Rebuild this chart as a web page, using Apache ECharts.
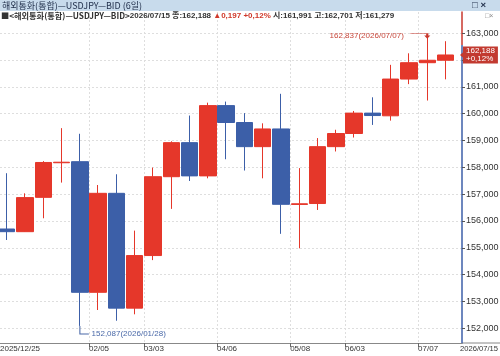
<!DOCTYPE html>
<html>
<head>
<meta charset="utf-8">
<script src="https://cdn.jsdelivr.net/npm/echarts@6/dist/echarts.min.js"></script>
<style>
  html, body { margin: 0; padding: 0; background: #fff; }
  #chart { width: 500px; height: 356px; }
</style>
</head>
<body>
<div id="chart"></div>
<script>
// 6-day candles, USDJPY bid
const dates = [
  '2025/12/25', '2026/01/05', '2026/01/13', '2026/01/21', '2026/01/28',
  '2026/02/05', '2026/02/13', '2026/02/24', '2026/03/03', '2026/03/11',
  '2026/03/19', '2026/03/27', '2026/04/06', '2026/04/14', '2026/04/22',
  '2026/04/30', '2026/05/08', '2026/05/18', '2026/05/26', '2026/06/03',
  '2026/06/11', '2026/06/19', '2026/06/29', '2026/07/07', '2026/07/15'
];
const opens = [
  155.70, 155.60, 156.88, 158.17, 158.21,
  153.34, 157.03, 152.75, 154.71, 157.65,
  158.92, 157.68, 160.30, 159.67, 158.77,
  159.43, 156.615, 156.65, 158.77, 159.26,
  160.02, 159.92, 161.29, 161.90, 161.991
];
const closes = [
  155.60, 156.87, 158.18, 158.19, 153.34,
  157.03, 152.75, 154.71, 157.65, 158.92,
  157.68, 160.30, 159.67, 158.77, 159.43,
  156.62, 156.64, 158.77, 159.26, 160.02,
  159.93, 161.29, 161.90, 161.991, 162.188
];
const lows = [
  155.29, 155.59, 156.10, 157.43, 152.087,
  152.68, 152.28, 152.52, 154.54, 156.45,
  157.49, 157.59, 158.30, 157.88, 157.59,
  155.52, 154.98, 156.41, 158.59, 159.11,
  159.58, 159.74, 161.10, 160.49, 161.279
];
const highs = [
  157.78, 157.03, 158.23, 159.46, 159.25,
  157.34, 157.74, 155.64, 157.99, 158.97,
  159.93, 160.41, 160.45, 160.02, 159.64,
  160.74, 157.97, 159.09, 159.40, 160.10,
  160.61, 161.82, 162.25, 162.837, 162.701
];
const yTicks = [152, 153, 154, 155, 156, 157, 158, 159, 160, 161, 162, 163];
const yLabels = [152, 153, 154, 155, 156, 157, 158, 159, 160, 161, 163];
const xLabelIdx = [0, 5, 8, 12, 16, 19, 23];

const red = '#e5372a';
const blue = '#3c5fa8';
const xMin = 0.131;
const xMax = 25.4;
const yMin = 151.45;
const yMax = 163.79;

const fmt = v => v.toFixed(3).replace('.', ',');
const last = dates.length - 1;
const change = closes[last] - closes[last - 1];
const pct = change / closes[last - 1] * 100;
const pctText = (change >= 0 ? '+' : '') + pct.toFixed(2).replace('.', ',') + '%';

let hiIdx = 0, loIdx = 0;
highs.forEach((v, i) => { if (v > highs[hiIdx]) hiIdx = i; });
lows.forEach((v, i) => { if (v < lows[loIdx]) loIdx = i; });

const candles = dates.map((d, i) => [i + 0.5, opens[i], closes[i], lows[i], highs[i]]);

const chart = echarts.init(document.getElementById('chart'));
const font = 'Liberation Sans';
const krFont = 'Noto Sans CJK KR';
const mixFont = "'Liberation Sans', 'Noto Sans CJK KR'";

const option = {
  animation: false,
  backgroundColor: '#fff',
  title: [
    {
      text: '해외통화(통합)—USDJPY—BID (6일)',
      left: 2, top: 0, padding: 0,
      textStyle: { fontSize: 9, fontWeight: 'normal', color: '#1e2c48', fontFamily: krFont, lineHeight: 11 }
    },
    {
      text: '{a|■<해외통화(통합)—USDJPY—BID>}{k|' + dates[last] + ' 종:' + fmt(closes[last]) + ' }' +
        '{r|▲' + fmt(change) + ' ' + pctText + '}' +
        '{k| 시:' + fmt(opens[last]) + ' 고:' + fmt(highs[last]) + ' 저:' + fmt(lows[last]) + '}',
      left: 1, top: 12, padding: 0,
      textStyle: {
        rich: {
          a: { fontSize: 8.2, color: '#333', fontFamily: krFont },
          k: { fontSize: 8, color: '#333', fontFamily: mixFont },
          r: { fontSize: 8, color: '#d0392b', fontFamily: mixFont }
        }
      }
    }
  ],
  graphic: [
    { type: 'rect', left: 0, top: 0, z: -1, shape: { width: 500, height: 11 }, style: { fill: '#c8dbec' } },
    { type: 'text', left: 472, top: 0, style: { text: '□ ×', fontSize: 9.5, fontWeight: 'bold', fill: '#1e2c48', fontFamily: font } },
    { type: 'text', left: 485, top: 13, style: { text: '□×', fontSize: 7, fill: '#888', fontFamily: font } },
    { type: 'line', shape: { x1: 462, y1: 343, x2: 500, y2: 343 }, style: { stroke: '#888', lineWidth: 1 } }
  ],
  grid: { left: 0, right: 38, top: 12, bottom: 13, outerBoundsMode: 'none' },
  xAxis: {
    type: 'value',
    min: xMin,
    max: xMax,
    axisLine: { onZero: false, lineStyle: { color: '#888' } },
    axisTick: { customValues: xLabelIdx.slice(1), length: 4, lineStyle: { color: '#666' } },
    axisLabel: {
      customValues: [xMin].concat(xLabelIdx.slice(1), [xMax]),
      align: 'left',
      margin: 2,
      fontSize: 8,
      color: '#333',
      fontFamily: font,
      formatter: v => {
        if (v >= dates.length) return '{e|' + dates[last] + '}';
        const i = Math.round(v);
        return i === 0 ? dates[0] : dates[i].slice(5);
      },
      rich: {
        e: { fontSize: 7.6, color: '#333', fontFamily: font, padding: [0, 0, 0, -2] }
      }
    },
    splitLine: { show: true, lineStyle: { color: '#dedede', type: [2, 2] } }
  },
  yAxis: {
    type: 'value',
    position: 'right',
    min: yMin,
    max: yMax,
    axisLine: {
      show: true,
      onZero: false,
      lineStyle: {
        width: 1.5,
        color: {
          type: 'linear', x: 0, y: 0, x2: 0, y2: 1,
          colorStops: [
            { offset: 0, color: '#c8372d' },
            { offset: 0.106, color: '#c8372d' },
            { offset: 0.106, color: blue },
            { offset: 1, color: blue }
          ]
        }
      }
    },
    axisTick: { show: true, length: 3, customValues: yTicks, lineStyle: { color: '#555' } },
    axisLabel: {
      customValues: yLabels,
      margin: 4,
      fontSize: 9,
      color: '#333',
      fontFamily: font,
      formatter: v => fmt(v)
    },
    splitLine: { show: true, lineStyle: { color: '#dedede', type: [2, 2] } }
  },
  series: [
    {
      type: 'candlestick',
      dimensions: ['date', 'open', 'close', 'lowest', 'highest'],
      encode: { x: 'date', y: ['open', 'close', 'lowest', 'highest'] },
      barWidth: 17,
      data: candles,
      itemStyle: {
        color: red,
        color0: blue,
        borderColor: red,
        borderColor0: blue,
        borderWidth: 1
      },
      markPoint: {
        silent: true,
        data: [
          {
            coord: [hiIdx + 0.5, highs[hiIdx]],
            symbol: 'path://M0,0L17,0L17,4M15,2L17,4L19,2',
            symbolSize: [19, 4],
            symbolOffset: [-7.5, -2],
            itemStyle: { color: 'none', borderColor: '#c8372d', borderWidth: 1 },
            label: {
              show: true, position: 'left', distance: 1,
              formatter: fmt(highs[hiIdx]) + '(' + dates[hiIdx] + ')',
              fontSize: 8, color: '#c8473b', fontFamily: font
            }
          },
          {
            coord: [loIdx + 0.5, lows[loIdx]],
            symbol: 'path://M0,0L0,8L9,8',
            symbolSize: [9, 8],
            symbolOffset: [4.5, 4],
            itemStyle: { color: 'none', borderColor: '#4a69a8', borderWidth: 1 },
            label: {
              show: true, position: 'right', distance: 1, offset: [-1, 4],
              formatter: fmt(lows[loIdx]) + '(' + dates[loIdx] + ')',
              fontSize: 8, color: '#4a69a8', fontFamily: font
            }
          },
          {
            coord: [xMax, closes[last]],
            symbol: 'triangle',
            symbolSize: [7, 4],
            symbolRotate: 90,
            symbolOffset: [0, 0],
            itemStyle: { color: '#c23a30' },
            label: { show: false }
          }
        ]
      },
      markLine: {
        silent: true,
        symbol: 'none',
        lineStyle: { color: 'transparent', width: 0 },
        data: [{ yAxis: closes[last] }],
        label: {
          show: true,
          position: 'end',
          distance: 1,
          formatter: fmt(closes[last]) + '\n' + pctText,
          backgroundColor: '#c23a30',
          color: '#fff',
          padding: [1, 3, 0, 3],
          fontSize: 8,
          lineHeight: 8,
          fontFamily: font
        }
      }
    }
  ]
};

chart.setOption(option);
</script>
</body>
</html>
